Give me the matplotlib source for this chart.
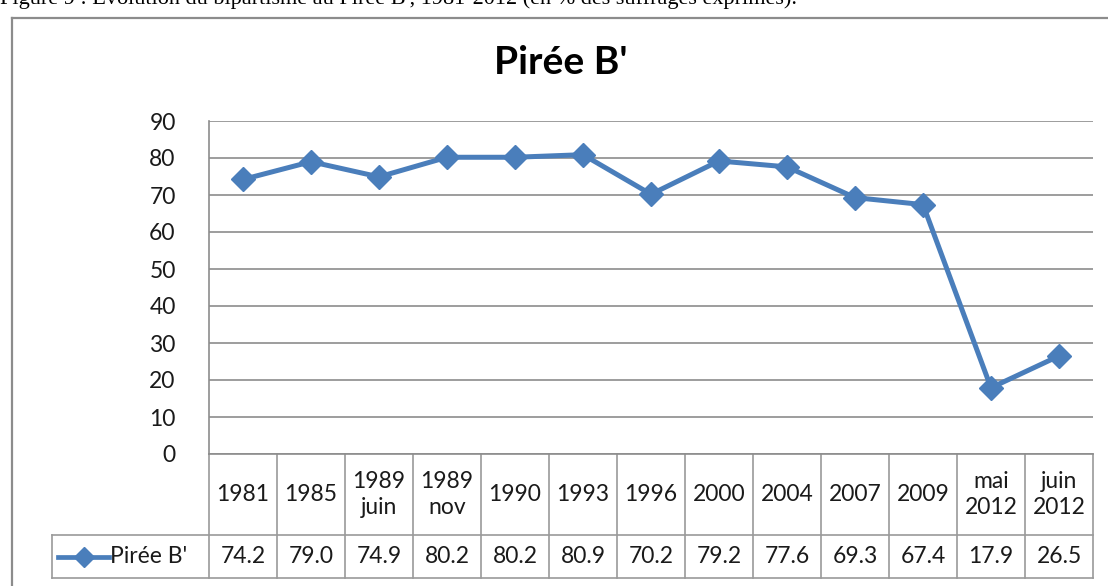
import matplotlib
matplotlib.use("Agg")
import matplotlib.pyplot as plt
from matplotlib.lines import Line2D
from matplotlib.transforms import blended_transform_factory

categories = ["1981", "1985", "1989\njuin", "1989\nnov", "1990", "1993", "1996",
              "2000", "2004", "2007", "2009", "mai\n2012", "juin\n2012"]
values = [74.2, 79.0, 74.9, 80.2, 80.2, 80.9, 70.2, 79.2, 77.6, 69.3, 67.4, 17.9, 26.5]
series_name = "Pirée B'"
title = "Pirée B'"
caption = "Figure 9 : Evolution du bipartisme au Pirée B', 1981-2012 (en % des suffrages exprimés)."
yticks = list(range(0, 100, 10))

W, H = 1108, 586
fig = plt.figure(figsize=(W / 100, H / 100), dpi=100)
fig.patch.set_facecolor("white")

font = "Lato"
fs = 16.5
txt_c = "#1a1a1a"
blue = "#4A7EBB"
grid_c = "#8C8C8C"
tab_c = "#9A9A9A"

# plot area in pixels
L, R, T, B = 209, 1093, 121, 454
ax = fig.add_axes([L / W, (H - B) / H, (R - L) / W, (B - T) / H])
ax.set_xlim(-0.5, len(categories) - 0.5)
ax.set_ylim(0, 90)
ax.set_yticks(yticks)
ax.set_yticklabels([str(v) for v in yticks], fontname=font, fontsize=fs, color=txt_c)
ax.tick_params(axis="y", length=0, pad=24)
ax.set_xticks([])
ax.grid(axis="y", color=grid_c, linewidth=1.2)
ax.set_axisbelow(True)
for s in ["top", "right"]:
    ax.spines[s].set_visible(False)
ax.spines["left"].set_color(grid_c)
ax.spines["left"].set_linewidth(1.2)
ax.spines["bottom"].set_color(grid_c)
ax.spines["bottom"].set_linewidth(1.2)

x = list(range(len(categories)))
ax.plot(x, values, color=blue, linewidth=3.6, marker="D", markersize=12,
        markerfacecolor=blue, markeredgecolor=blue, clip_on=False, zorder=3)

# data table below axis
tr = blended_transform_factory(ax.transData, ax.transAxes)
ph = B - T
y_head = -(535 - B) / ph
y_bot = -(578 - B) / ph
colw = (R - L) / len(categories)
x_lab = -0.5 + (52 - L) / colw

def seg(x0, x1, y0, y1):
    ax.add_line(Line2D([x0, x1], [y0, y1], transform=tr, color=tab_c,
                       linewidth=1.2, clip_on=False))

for i in range(len(categories) + 1):
    seg(-0.5 + i, -0.5 + i, 0, y_bot)
seg(x_lab, len(categories) - 0.5, y_head, y_head)
seg(x_lab, len(categories) - 0.5, y_bot, y_bot)
seg(x_lab, x_lab, y_head, y_bot)

for i, (c, v) in enumerate(zip(categories, values)):
    ax.text(i, y_head / 2, c, transform=tr, ha="center", va="center",
            fontname=font, fontsize=fs, color=txt_c, linespacing=1.25)
    ax.text(i, (y_head + y_bot) / 2, f"{v:.1f}", transform=tr, ha="center",
            va="center", fontname=font, fontsize=fs, color=txt_c)

# legend key in label column
ym = (y_head + y_bot) / 2
k0 = -0.5 + (58 - L) / colw
k1 = -0.5 + (109 - L) / colw
ax.add_line(Line2D([k0, k1], [ym, ym], transform=tr, color=blue, linewidth=3.4,
                   clip_on=False))
ax.add_line(Line2D([(k0 + k1) / 2], [ym], transform=tr, color=blue, marker="D",
                   markersize=10, linestyle="none", clip_on=False))
ax.text(-0.5 + (110 - L) / colw, ym, series_name, transform=tr, ha="left",
        va="center", fontname=font, fontsize=fs, color=txt_c)

# title
fig.text(561 / W, 1 - 62 / H, title, ha="center", va="center", fontname=font,
         fontweight="bold", fontsize=28, color="black")

# outer chart border
fig.add_artist(Line2D([12 / W, 12 / W], [0, 1 - 18 / H], transform=fig.transFigure,
                      color="#8C8C8C", linewidth=1.6))
fig.add_artist(Line2D([12 / W, 1], [1 - 18 / H, 1 - 18 / H], transform=fig.transFigure,
                      color="#8C8C8C", linewidth=1.6))

# cut-off caption at very top (as in the reference)
fig.text(0, 1 - 4 / H, caption, ha="left", va="baseline", fontname="Liberation Serif",
         fontsize=16, color="black")

fig.savefig("out.png", dpi=100, facecolor="white")
